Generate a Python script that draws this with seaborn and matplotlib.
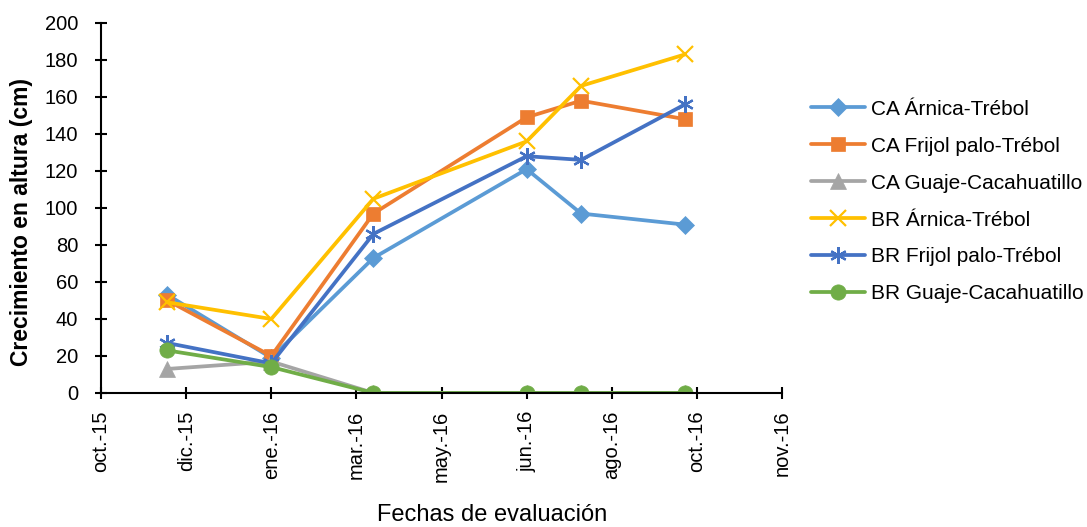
import datetime as dt
import matplotlib
matplotlib.use("Agg")
import matplotlib.pyplot as plt
import matplotlib.dates as mdates
from matplotlib.ticker import FuncFormatter, MultipleLocator
import seaborn as sns

# Evaluation dates
fechas = [dt.date(2015, 11, 28), dt.date(2016, 1, 28), dt.date(2016, 3, 28),
          dt.date(2016, 6, 26), dt.date(2016, 7, 28), dt.date(2016, 9, 27)]

# Height growth (cm) per treatment
ca_arnica = [53, 19, 73, 121, 97, 91]
ca_frijol = [50, 20, 97, 149, 158, 148]
ca_guaje = [13, 17, 0, 0, 0, 0]
br_arnica = [49, 40, 105, 136, 166, 183]
br_frijol = [27, 16, 86, 128, 126, 156]
br_guaje = [23, 14, 0, 0, 0, 0]

series = [
    ("CA Árnica-Trébol", ca_arnica, "#5B9BD5", "D", 9.5),
    ("CA Frijol palo-Trébol", ca_frijol, "#ED7D31", "s", 10.5),
    ("CA Guaje-Cacahuatillo", ca_guaje, "#A5A5A5", "^", 11),
    ("BR Árnica-Trébol", br_arnica, "#FFC000", "x", 11),
    ("BR Frijol palo-Trébol", br_frijol, "#4472C4", (6, 2, 0), 12),
    ("BR Guaje-Cacahuatillo", br_guaje, "#70AD47", "o", 11),
]

meses = {1: "ene.", 2: "feb.", 3: "mar.", 4: "abr.", 5: "may.", 6: "jun.",
         7: "jul.", 8: "ago.", 9: "sep.", 10: "oct.", 11: "nov.", 12: "dic."}

sns.set_theme(style="white")
plt.rcParams["font.family"] = ["Liberation Sans", "DejaVu Sans"]
plt.rcParams["text.color"] = "black"

fig = plt.figure(figsize=(10.87, 5.27), dpi=100)
ax = fig.add_axes([0.093, 0.2543, 0.6264, 0.7021])

for nombre, valores, color, marca, tam in series:
    sns.lineplot(x=fechas, y=valores, ax=ax, color=color, marker=marca,
                 markersize=tam, linewidth=2.7, label=nombre,
                 markeredgecolor=color, markeredgewidth=1.6 if marca in ("x", (6, 2, 0)) else 0.5)

inicio = dt.date(2015, 10, 20)
ticks = [inicio + dt.timedelta(days=50 * i) for i in range(9)]
ax.set_xlim(mdates.date2num(ticks[0]), mdates.date2num(ticks[-1]))
ax.set_xticks([mdates.date2num(t) for t in ticks])
ax.xaxis.set_major_formatter(FuncFormatter(
    lambda v, p: "{}-{}".format(meses[mdates.num2date(v).month],
                                mdates.num2date(v).strftime("%y"))))
ax.set_ylim(0, 200)
ax.yaxis.set_major_locator(MultipleLocator(20))

for lbl in ax.get_xticklabels():
    lbl.set_rotation(90)

ax.tick_params(axis="both", direction="inout", length=9, width=1.5,
               color="black", labelsize=14.5, labelcolor="black")
ax.tick_params(axis="y", pad=12)
ax.tick_params(axis="x", pad=8)
ax.tick_params(axis="both", which="both", bottom=True, left=True)

for side in ("top", "right"):
    ax.spines[side].set_visible(False)
for side in ("left", "bottom"):
    ax.spines[side].set_color("black")
    ax.spines[side].set_linewidth(1.5)

ax.set_ylabel("Crecimiento en altura (cm)", fontsize=16.5, fontweight="bold",
              color="black")
ax.yaxis.set_label_coords(-0.1, 0.462)
ax.set_xlabel("Fechas de evaluación", fontsize=17, color="black")
ax.xaxis.set_label_coords(0.574, -0.3)

leg = ax.legend(loc="upper left", bbox_to_anchor=(1.03, 0.815), frameon=False,
                fontsize=15, handlelength=2.6, labelspacing=0.86,
                handletextpad=0.3, borderaxespad=0, labelcolor="black")

fig.savefig("out.png", dpi=100)
